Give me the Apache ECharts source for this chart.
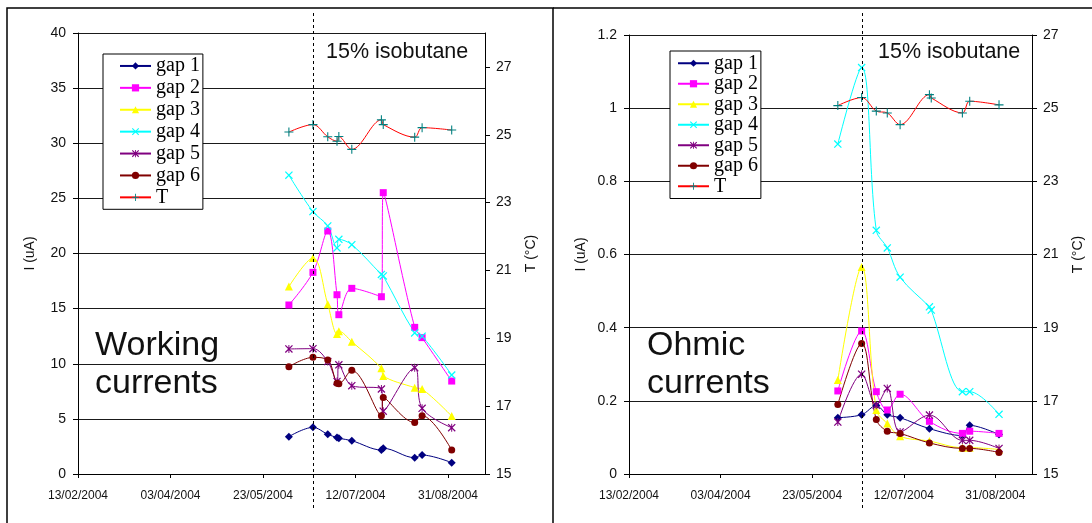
<!DOCTYPE html>
<html>
<head>
<meta charset="utf-8">
<script src="https://cdn.jsdelivr.net/npm/echarts@6.0.0/dist/echarts.min.js"></script>
<style>
  html, body { margin: 0; padding: 0; background: #fff; }
  #chart { width: 1092px; height: 523px; }
</style>
</head>
<body>
<div id="chart"></div>
<script>
// Measurement dates shared by both panels
const measDates = ['2004-06-06', '2004-06-19', '2004-06-27', '2004-07-02', '2004-07-03',
  '2004-07-10', '2004-07-26', '2004-07-27', '2004-08-13', '2004-08-17', '2004-09-02'];

// Working currents (uA)
const workGap1 = [3.39, 4.23, 3.6, 3.3, 3.24, 3.02, 2.18, 2.33, 1.48, 1.72, 1.03];
const workGap2 = [15.33, 18.29, 22.04, 16.26, 14.45, 16.84, 16.08, 25.52, 13.3, 12.37, 8.43];
const workGap3 = [17.0, 19.6, 15.4, 12.7, 12.95, 12.0, 9.6, 8.9, 7.83, 7.7, 5.25];
const workGap4 = [27.1, 23.8, 22.5, 20.5, 21.29, 20.8, 18.1, 17.96, 12.8, 12.5, 8.98];
const workGap5 = [11.34, 11.37, 10.2, 8.4, 9.9, 8.01, 7.71, 5.7, 9.64, 5.96, 4.2];
const workGap6 = [9.73, 10.58, 10.34, 8.22, 8.19, 9.4, 5.29, 6.95, 4.66, 5.29, 2.17];
const workTemp = [25.08, 25.30, 24.94, 24.81, 24.95, 24.57, 25.44, 25.30, 24.93, 25.21, 25.14];

// Ohmic currents (uA)
const ohmGap1 = [0.154, 0.162, 0.187, null, 0.162, 0.154, 0.124, null, 0.105, 0.133, 0.108];
const ohmGap2 = [0.227, 0.391, 0.225, null, 0.175, 0.218, 0.144, null, 0.111, 0.117, 0.111];
const ohmGap3 = [0.257, 0.566, 0.175, null, 0.138, 0.103, 0.09, null, 0.072, 0.072, 0.067];
const ohmGap4 = [0.902, 1.111, 0.666, null, 0.618, 0.538, 0.457, 0.448, 0.225, 0.225, 0.163];
const ohmGap5 = [0.142, 0.273, 0.188, null, 0.234, 0.115, 0.161, null, 0.092, 0.092, 0.07];
const ohmGap6 = [0.19, 0.357, 0.149, null, 0.117, 0.111, 0.085, null, 0.07, 0.07, 0.059];
const ohmTemp = [25.07, 25.29, 24.92, null, 24.87, 24.55, 25.37, 25.28, 24.87, 25.19, 25.09];

// Axis ticks
const dateTickLabels = ['13/02/2004', '03/04/2004', '23/05/2004', '12/07/2004', '31/08/2004'];
const tempTicks = [15, 17, 19, 21, 23, 25, 27];
const axisStart = '2004-02-13';
const axisSpanDays = 220;
const markerDate = '2004-06-19';

const seriesNames = ['gap 1', 'gap 2', 'gap 3', 'gap 4', 'gap 5', 'gap 6', 'T'];

const DAY = 86400000;
function utc(iso) {
  const p = iso.split('-').map(Number);
  return Date.UTC(p[0], p[1] - 1, p[2]);
}
function dayOf(iso) { return Math.round((utc(iso) - utc(axisStart)) / DAY); }
function fromLabel(lbl) {
  const p = lbl.split('/');
  return dayOf(p[2] + '-' + p[1] + '-' + p[0]);
}
function fmtDay(v) {
  const d = new Date(utc(axisStart) + v * DAY);
  const dd = String(d.getUTCDate()).padStart(2, '0');
  const mm = String(d.getUTCMonth() + 1).padStart(2, '0');
  return dd + '/' + mm + '/' + d.getUTCFullYear();
}
const dateTicks = dateTickLabels.map(fromLabel);

function pairs(vals) {
  const out = [];
  measDates.forEach((d, i) => { if (vals[i] !== null) out.push([dayOf(d), vals[i]]); });
  return out;
}

// Stroke-like marker shapes
const crossPath = 'path://M0,1.1 L1.1,0 L10,8.9 L8.9,10 Z M8.9,0 L10,1.1 L1.1,10 L0,8.9 Z';
const starPath = 'path://M0,1.1 L1.1,0 L10,8.9 L8.9,10 Z M8.9,0 L10,1.1 L1.1,10 L0,8.9 Z M4.4,0 L5.6,0 L5.6,10 L4.4,10 Z';
const plusPath = 'path://M4.4,0 H5.6 V4.4 H10 V5.6 H5.6 V10 H4.4 V5.6 H0 V4.4 H4.4 Z';

const styles = [
  { line: '#000080', item: '#000080', symbol: 'diamond', size: 8 },
  { line: '#FF00FF', item: '#FF00FF', symbol: 'rect', size: 7 },
  { line: '#FFFF00', item: '#FFFF00', symbol: 'triangle', size: 8 },
  { line: '#00FFFF', item: '#00FFFF', symbol: crossPath, size: 8 },
  { line: '#800080', item: '#800080', symbol: starPath, size: 8 },
  { line: '#800000', item: '#800000', symbol: 'circle', size: 7 },
  { line: '#FF0000', item: '#008080', symbol: plusPath, size: 9 }
];

function makeSeries(valueSets, gridIdx) {
  return valueSets.map((vals, k) => {
    const st = styles[k];
    return {
      name: seriesNames[k],
      type: 'line',
      xAxisIndex: gridIdx,
      yAxisIndex: gridIdx * 2 + (k === 6 ? 1 : 0),
      data: pairs(vals),
      smooth: 0.35,
      connectNulls: true,
      symbol: st.symbol,
      symbolSize: st.size,
      showSymbol: true,
      lineStyle: { color: st.line, width: 1 },
      itemStyle: { color: st.item },
      emphasis: { disabled: true }
    };
  });
}

const font = 'Liberation Sans';
const axisLine = { show: true, lineStyle: { color: '#000', width: 1 } };

function xAxis(gridIdx) {
  return {
    gridIndex: gridIdx, type: 'value', min: 0, max: axisSpanDays,
    axisLine: axisLine,
    axisTick: { show: true, inside: false, length: 4, customValues: dateTicks, lineStyle: { color: '#000' } },
    axisLabel: { customValues: dateTicks, formatter: fmtDay, margin: 16, fontFamily: font, fontSize: 12, color: '#111' },
    splitLine: { show: false }
  };
}
function currentAxis(gridIdx, max, interval, nameGap) {
  return {
    gridIndex: gridIdx, type: 'value', position: 'left', min: 0, max: max, interval: interval,
    name: 'I (uA)', nameLocation: 'middle', nameRotate: 90, nameGap: nameGap,
    nameTextStyle: { fontFamily: font, fontSize: 14, color: '#111' },
    axisLine: axisLine,
    axisTick: { show: true, inside: false, length: 5, lineStyle: { color: '#000' } },
    axisLabel: { margin: 12, fontFamily: font, fontSize: 14, color: '#111' },
    splitLine: { show: true, lineStyle: { color: '#1a1a1a', width: 1 } }
  };
}
function tempAxis(gridIdx, max, nameGap) {
  return {
    gridIndex: gridIdx, type: 'value', position: 'right', min: 15, max: max,
    name: 'T (°C)', nameLocation: 'middle', nameRotate: 90, nameGap: nameGap,
    nameTextStyle: { fontFamily: font, fontSize: 14, color: '#111' },
    axisLine: axisLine,
    axisTick: { show: true, inside: false, length: 5, customValues: tempTicks, lineStyle: { color: '#000' } },
    axisLabel: { customValues: tempTicks, margin: 11, fontFamily: font, fontSize: 14, color: '#111' },
    splitLine: { show: false }
  };
}

function legend(left, top, rowH, padding) {
  return {
    orient: 'vertical', left: left, top: top, data: seriesNames,
    itemWidth: 31, itemHeight: 9, itemGap: 0, padding: padding,
    borderColor: '#000', borderWidth: 1, backgroundColor: '#fff',
    selectedMode: false,
    textStyle: { fontFamily: 'Liberation Serif', fontSize: 20, color: '#000', lineHeight: rowH }
  };
}

const chart = echarts.init(document.getElementById('chart'), null, { renderer: 'canvas' });

const option = {
  animation: false,
  backgroundColor: '#fff',
  grid: [
    { left: 78, top: 33, width: 407, height: 441 },
    { left: 629, top: 35, width: 403, height: 439 }
  ],
  xAxis: [xAxis(0), xAxis(1)],
  yAxis: [
    currentAxis(0, 40, 5, 41),
    tempAxis(0, 28, 39),
    currentAxis(1, 1.2, 0.2, 41),
    tempAxis(1, 27, 39)
  ],
  legend: [
    legend(103, 54, 21.9, [1, 3, 1, 16]),
    legend(670, 51, 20.5, [2, 3, 2, 7])
  ],
  series: makeSeries([workGap1, workGap2, workGap3, workGap4, workGap5, workGap6, workTemp], 0)
    .concat(makeSeries([ohmGap1, ohmGap2, ohmGap3, ohmGap4, ohmGap5, ohmGap6, ohmTemp], 1)),
  graphic: [
    { type: 'rect', shape: { x: 7, y: 8, width: 546, height: 540 }, style: { fill: null, stroke: '#000', lineWidth: 1.5 }, silent: true },
    { type: 'line', shape: { x1: 553, y1: 8, x2: 1092, y2: 8 }, style: { stroke: '#000', lineWidth: 1.5 }, silent: true },
    { type: 'text', left: 326, top: 41, style: { text: '15% isobutane', font: '21.5px "Liberation Sans"', fill: '#111' }, silent: true },
    { type: 'text', left: 878, top: 41, style: { text: '15% isobutane', font: '21.5px "Liberation Sans"', fill: '#111' }, silent: true },
    { type: 'text', left: 95, top: 327, style: { text: 'Working\ncurrents', font: '34px "Liberation Sans"', lineHeight: 38, fill: '#111' }, silent: true },
    { type: 'text', left: 647, top: 327, style: { text: 'Ohmic\ncurrents', font: '34px "Liberation Sans"', lineHeight: 38, fill: '#111' }, silent: true }
  ]
};
chart.setOption(option);

// Dashed reference date line in both panels, placed through the x scales
const markDay = dayOf(markerDate);
const dashLines = [0, 1].map(idx => {
  const px = Math.round(chart.convertToPixel({ xAxisIndex: idx }, markDay)) + 0.5;
  return {
    type: 'line', z: 100, silent: true,
    shape: { x1: px, y1: 13, x2: px, y2: 509 },
    style: { stroke: '#000', lineWidth: 1, lineDash: [3, 3] }
  };
});
chart.setOption({ graphic: option.graphic.concat(dashLines) });
</script>
</body>
</html>
